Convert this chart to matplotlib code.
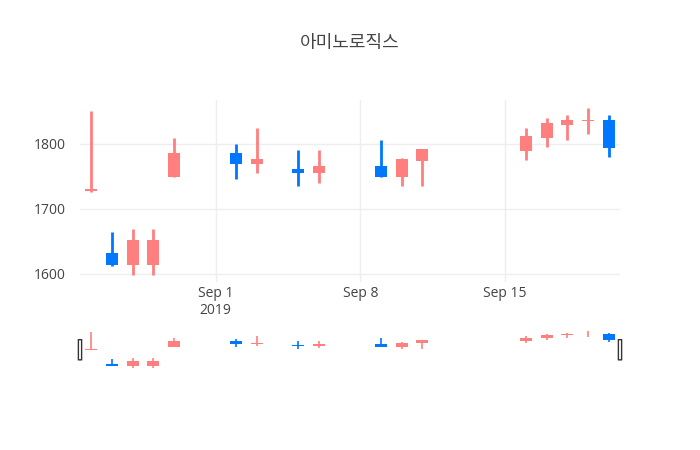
import numpy as np
import matplotlib
matplotlib.use("Agg")
import matplotlib.pyplot as plt
import matplotlib.dates as mdates
from matplotlib.patches import FancyBboxPatch

dates = ["2019-08-26", "2019-08-27", "2019-08-28", "2019-08-29", "2019-08-30",
         "2019-09-02", "2019-09-03", "2019-09-05", "2019-09-06",
         "2019-09-09", "2019-09-10", "2019-09-11",
         "2019-09-16", "2019-09-17", "2019-09-18", "2019-09-19", "2019-09-20"]
opens = [1727, 1631, 1613, 1613, 1748, 1786, 1769, 1761, 1754, 1766, 1748, 1773, 1789, 1809, 1829, 1834, 1836]
highs = [1850, 1664, 1669, 1669, 1809, 1800, 1824, 1790, 1790, 1805, 1778, 1791, 1824, 1839, 1844, 1854, 1844]
lows = [1725, 1612, 1598, 1598, 1748, 1745, 1755, 1734, 1740, 1748, 1735, 1735, 1775, 1795, 1806, 1815, 1780]
closes = [1730, 1613, 1651, 1651, 1786, 1769, 1776, 1754, 1766, 1748, 1776, 1791, 1811, 1831, 1836, 1836, 1793]
title = "아미노로직스"

UP = "#ff7f7f"
DOWN = "#0077ff"
TXT = "#444444"

x = mdates.datestr2num(dates)
o, h, l, c = map(np.array, (opens, highs, lows, closes))
cols = [UP if cc >= oo else DOWN for oo, cc in zip(o, c)]
bottom = np.minimum(o, c)
height = np.maximum(np.abs(c - o), 2.5)

xmin, xmax = x[0] - 0.55, x[-1] + 0.55
ymin, ymax = 1587, 1867

fig = plt.figure(figsize=(7, 4.5), dpi=100)
ax = fig.add_axes([80 / 700, 1 - 282 / 450, 540 / 700, 182 / 450])
sl = fig.add_axes([80 / 700, 80 / 450, 540 / 700, 40.5 / 450])


def candles(a, lw):
    a.vlines(x, l, h, colors=cols, linewidth=lw, zorder=2)
    a.bar(x, height, bottom=bottom, width=0.58, color=cols, zorder=3, linewidth=0)
    a.set_xlim(xmin, xmax)
    a.set_ylim(ymin, ymax)
    for s in a.spines.values():
        s.set_visible(False)


candles(ax, 2)
candles(sl, 1.2)

ax.set_yticks([1600, 1700, 1800])
ticks = mdates.datestr2num(["2019-09-01", "2019-09-08", "2019-09-15"])
ax.set_xticks(ticks)
ax.set_xticklabels(["Sep 1\n2019", "Sep 8", "Sep 15"])
ax.grid(True, color="#eeeeee", linewidth=1, zorder=0)
ax.set_axisbelow(True)
ax.tick_params(length=0, labelsize=10, labelcolor=TXT)
ax.tick_params(axis="x", pad=3)
ax.tick_params(axis="y", pad=10)
for t in ax.get_xticklabels() + ax.get_yticklabels():
    t.set_family(["Open Sans", "DejaVu Sans"])

sl.set_xticks([])
sl.set_yticks([])

# range slider handles
for hx in (0, 1):
    sl.add_patch(FancyBboxPatch((hx - 0.003, 0.25), 0.006, 0.5,
                                boxstyle="round,pad=0,rounding_size=0.003",
                                transform=sl.transAxes, clip_on=False,
                                facecolor="white", edgecolor="#333333",
                                linewidth=1, zorder=5))

fig.text(350 / 700, 1 - 43 / 450, title, ha="center", va="center",
         fontsize=13, color=TXT, family=["Noto Sans CJK KR", "DejaVu Sans"])

fig.savefig("out.png", dpi=100, facecolor="white")
